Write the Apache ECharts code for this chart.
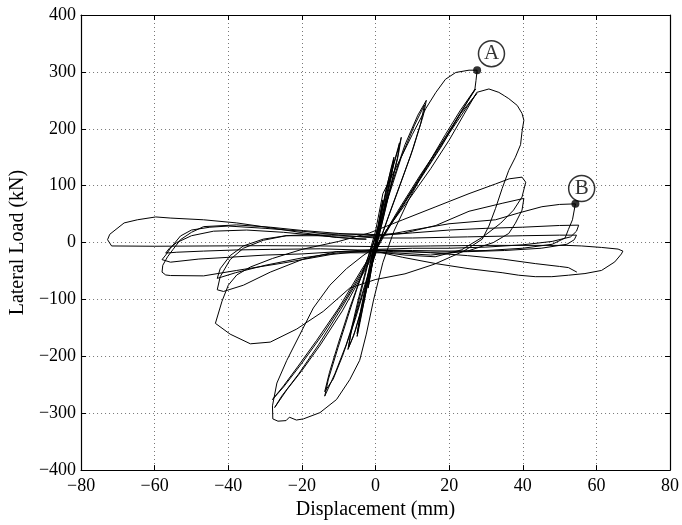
<!DOCTYPE html>
<html>
<head>
<meta charset="utf-8">
<script src="https://cdn.jsdelivr.net/npm/echarts@6/dist/echarts.min.js"></script>
<style>
  html, body { margin: 0; padding: 0; background: #fff; }
  #main { width: 682px; height: 525px; }
</style>
</head>
<body>
<div id="main"></div>
<script>
// displacement (mm), lateral load (kN), cycle by cycle
var cycle1 = [[0,0],[0.8,32],[1.6,62],[2,75],[1.6,58],[0.8,25],[0,-5],[-0.8,-35],[-1.6,-65],[-2,-80],[-1.6,-60],[-0.8,-28],[0,2],[1,40],[2,72],[1.5,52],[0.5,12],[-0.5,-22],[-1.2,-50],[-2,-78],[-1.4,-50],[-0.5,-12],[0,0]];
var cycle2 = [[1.5,45],[3,95],[4.2,130],[5,150],[4.3,122],[3,80],[1.5,35],[0,-8],[-1.5,-50],[-3,-100],[-4.2,-140],[-5,-165],[-4.3,-135],[-3,-90],[-1.5,-40],[0,4],[1.5,48],[3,98],[4.5,135],[5,145],[4.2,112],[2.5,60],[0.8,15],[-1,-35],[-2.5,-85],[-4,-130],[-5,-160],[-4,-118],[-2.5,-70],[-1,-22]];
var cycle3 = [[1,20],[3,85],[5,138],[6.5,172],[7,185],[6.3,158],[4.5,110],[2.5,55],[0.5,0],[-1.5,-55],[-3.5,-110],[-5.5,-155],[-7,-180],[-7.5,-188],[-6.7,-160],[-5,-115],[-3,-62],[-1,-10],[1,35],[3,92],[5,140],[6.5,175],[6.8,178],[6,148],[4.2,100],[2.2,45],[0.2,-8],[-2,-65],[-4,-120],[-6,-165],[-7.3,-184],[-6.5,-150],[-4.5,-95],[-2.5,-45],[-0.5,0]];
var cycle4 = [[2,50],[4.5,105],[8,172],[11.5,224],[13.8,250],[13,224],[10.2,165],[7,108],[4,55],[1,0],[-2,-55],[-5,-120],[-8,-180],[-11,-230],[-13.8,-270],[-12.8,-240],[-10.2,-185],[-7.5,-130],[-5,-80],[-2.5,-35],[0,10],[3,70],[7,150],[10.5,205],[13.3,242],[12.3,210],[9.5,152],[6.5,98],[3.5,45],[0.5,-10],[-2.5,-70],[-5.5,-135],[-9,-200],[-11.5,-240],[-13.8,-262],[-12.5,-228],[-10,-175],[-7,-115],[-4.5,-70],[-2,-25]];
var cycle5 = [[0,20],[2,86],[5.6,132],[10,190],[13.7,236],[16.4,264],[19,287],[21.8,299],[25.4,303],[27.6,303],[27.3,285],[27,270],[23,226],[18,170],[12,110],[6,50],[0,-8],[-3.4,-23],[-7.9,-46],[-12.4,-75],[-16.9,-115],[-20.5,-161],[-24.1,-207],[-26.8,-247],[-28,-287],[-27.9,-310],[-26.5,-314],[-24.3,-313],[-23.4,-307],[-21.5,-312],[-19.6,-310],[-15.1,-299],[-10.6,-276],[-7,-241],[-4.3,-207],[-2.5,-161],[-0.5,-100],[2,-35],[5,20],[9,75],[14,135],[19,190],[23,232],[26,260],[27.2,270],[24,238],[19,185],[13,125],[7,62],[2,8],[-3,-50],[-9,-120],[-15,-180],[-20,-225],[-24,-258],[-27.4,-290],[-25.5,-270],[-21,-232],[-15.5,-180],[-9.5,-118],[-4,-58],[1,0],[6,55],[12,117],[18,175],[23,226],[27.5,262],[25,240],[20,192],[14,132],[8,72],[2,12],[-4,-50],[-10,-115],[-16,-172],[-21,-217],[-25,-252],[-28,-276],[-25,-254],[-20,-212],[-14,-158],[-8,-98],[-2,-32],[3,22],[9,75],[15,130],[20,180],[24,225]];
var cycle6 = [[27.5,264],[30.8,270],[33.5,264],[35,258],[36.2,253],[38.5,241],[39.8,227],[40.3,215],[39.8,195],[39.4,172],[38,150],[36.2,127],[34.4,95],[32.6,60],[30.8,29],[29,6],[24,-15],[16,-38],[8,-55],[0,-65],[-7,-80],[-14.2,-121],[-21.4,-152],[-28.6,-175],[-34,-178],[-39.5,-161],[-43.5,-142],[-41.7,-103],[-40,-75],[-37.7,-57],[-34,-43],[-28,-28],[-20,-12],[-10,2],[-1.6,17]];
var cycle7 = [[7.4,40],[16.4,63],[25.4,86],[32.6,103],[36.3,112],[39.8,115],[40.8,106],[39.8,80],[37.5,57],[34,34],[29.2,10],[23.3,-13],[16.2,-25],[8,-22],[0,-16],[-10.6,-16],[-19.6,-29],[-28.6,-52],[-35.9,-75],[-41.3,-86],[-43,-83],[-42.2,-60],[-39.5,-30],[-35.9,-10],[-30.5,4],[-24.3,12],[-15,15],[-5,15],[0,14],[7.4,16],[16.4,30],[25.4,55],[34.4,69],[40.3,77.6],[39.8,57],[38,34],[36.2,16],[32,0],[25,-15],[15,-22],[5,-18],[-10,-18],[-20,-27],[-30,-40],[-38,-53],[-43,-63],[-42.2,-46],[-39.5,-23],[-35.9,-6],[-30.5,6],[-24.3,12],[-12,12],[0,10]];
var cycle8 = [[10,22],[20,33],[32.6,40],[38.9,52],[45.2,63],[50,67],[54.3,68],[53.5,40],[52.4,23],[51.5,8],[48,-3],[40,-10],[30,-14],[20,-15],[10,-14],[0,-13],[-12.1,-21],[-25.1,-36],[-37.7,-49],[-46.7,-58.6],[-55.7,-58],[-57,-57],[-58,-52],[-57.8,-40],[-56.5,-25],[-55,-12],[-53,5],[-50,18],[-46.7,28],[-37.7,31],[-28.6,27],[-19.6,21],[-10,16],[0,12],[10,17],[20,22],[30,25],[40,27],[50,30],[55.2,30.6],[54.6,20],[53,10],[48,2],[40,-4],[30,-8],[20,-10],[10,-10],[0,-12],[-10,-16],[-20,-20],[-30,-22],[-40,-26],[-48,-29],[-55.7,-34.5],[-58,-30],[-57,-22],[-55.7,-10],[-53,11.5],[-50,22],[-45,27],[-40,29],[-30,25],[-20,20],[-10,13],[0,8],[10,8],[25,10],[40,12],[50,13],[54.6,13],[54,5],[52,-3],[45,-10],[35,-14],[25,-16],[15,-17],[5,-16],[-5,-13],[-15,-11],[-28.6,-12],[-37.7,-13],[-46.7,-15],[-54,-17],[-57,-18.5],[-56,-10],[-54,0],[-50,12],[-44,20],[-35,22],[-25,18],[-15,12],[-5,6]];
var cycle9 = [[-2.5,6],[-10.6,9],[-19.6,17],[-28.6,26],[-37.7,34.5],[-46.7,40],[-55.6,43],[-59.7,45],[-64.7,40],[-68.3,34.5],[-72.2,14.5],[-72.8,5],[-71.7,-6],[-60,-6.5],[-45,-6],[-30,-5.5],[-15,-6],[0,-7],[15,-6],[30,-5],[45,-5],[52,-5],[56,-6],[61.4,-8.6],[65.9,-11.5],[67.2,-15],[66.8,-20],[65,-34],[61.4,-49],[56.9,-54.5],[52.4,-57.4],[47.9,-60],[43.4,-60],[38.9,-57.4],[34.4,-53],[25.4,-46],[16.4,-37],[7.4,-26],[1.1,-17],[-2,-14],[5,-14],[15,-18],[25,-23],[34.4,-29],[43.4,-37],[50,-42],[52.4,-44],[54.7,-52]];

// marked points and their circled tags
var peakPoints = [[27.6, 303], [54.3, 68]];
var tagPoints = [[31.5, 332, 'A'], [56, 95, 'B']];

var curve = [].concat(cycle1, cycle2, cycle3, cycle4, cycle5, cycle6, cycle7, cycle8, cycle9);

var myChart = echarts.init(document.getElementById('main'));

var serif = 'Liberation Serif';
function minusFmt(v) {
    return v < 0 ? '\u2212' + Math.abs(v) : String(v);
}

var baseX = {
    type: 'value', min: -80, max: 80, interval: 20,
    axisLine: { onZero: false, lineStyle: { color: '#000', width: 1.2 } },
    axisTick: { inside: true, length: 5, lineStyle: { color: '#000' } }
};
var baseY = {
    type: 'value', min: -400, max: 400, interval: 100,
    axisLine: { onZero: false, lineStyle: { color: '#000', width: 1.2 } },
    axisTick: { inside: true, length: 5, lineStyle: { color: '#000' } }
};

var option = {
    animation: false,
    backgroundColor: '#fff',
    grid: { left: 80, right: 10, top: 15, bottom: 47 },
    xAxis: [
        Object.assign({}, baseX, {
            position: 'bottom',
            name: 'Displacement (mm)',
            nameLocation: 'middle',
            nameGap: 29,
            nameTextStyle: { fontFamily: serif, fontSize: 20, color: '#000' },
            axisLabel: { fontFamily: serif, fontSize: 18, color: '#000', margin: 7,
                showMinLabel: true, showMaxLabel: true, formatter: minusFmt },
            splitLine: { show: true, lineStyle: { color: '#777', type: [1, 3], width: 1 } }
        }),
        Object.assign({}, baseX, {
            position: 'top',
            axisLabel: { show: false },
            splitLine: { show: false }
        })
    ],
    yAxis: [
        Object.assign({}, baseY, {
            position: 'left',
            name: 'Lateral Load (kN)',
            nameLocation: 'middle',
            nameGap: 47,
            nameTextStyle: { fontFamily: serif, fontSize: 20, color: '#000' },
            axisLabel: { fontFamily: serif, fontSize: 18, color: '#000', margin: 5,
                showMinLabel: true, showMaxLabel: true, formatter: minusFmt },
            splitLine: { show: true, lineStyle: { color: '#777', type: [1, 3], width: 1 } }
        }),
        Object.assign({}, baseY, {
            position: 'right',
            axisLabel: { show: false },
            splitLine: { show: false }
        })
    ],
    series: [
        {
            type: 'line',
            data: curve,
            showSymbol: false,
            symbol: 'none',
            lineStyle: { color: '#000', width: 1 },
            z: 3
        },
        {
            type: 'scatter',
            data: peakPoints,
            symbolSize: 8,
            itemStyle: { color: '#000' },
            z: 4
        },
        {
            type: 'scatter',
            data: tagPoints,
            symbol: 'circle',
            symbolSize: 26,
            itemStyle: { color: 'rgba(255,255,255,0)', borderColor: '#000', borderWidth: 1.5 },
            label: {
                show: true,
                position: 'inside',
                formatter: function (p) { return p.value[2]; },
                fontFamily: serif,
                fontSize: 21,
                color: '#000'
            },
            z: 4
        }
    ]
};

myChart.setOption(option);
</script>
</body>
</html>
